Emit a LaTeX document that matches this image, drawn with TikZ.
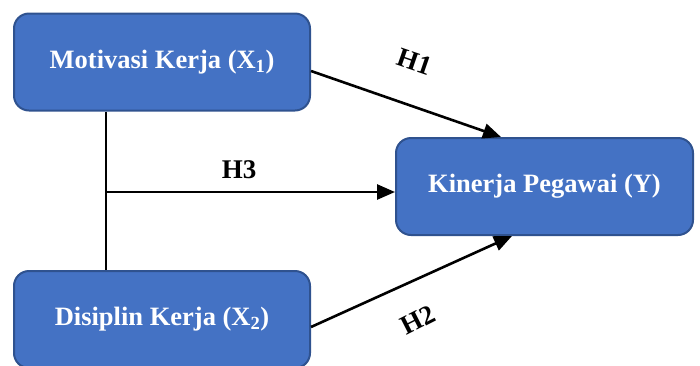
\documentclass[tikz,border=0pt]{standalone}
\usepackage{fontspec}
\setmainfont{Liberation Serif}
\usetikzlibrary{arrows.meta,calc}
\definecolor{boxfill}{HTML}{4472C4}
\definecolor{boxline}{HTML}{2F528F}
\tikzset{
  varbox/.style={draw=boxline, line width=2pt, fill=boxfill, rounded corners=15pt,
    minimum width=296pt, minimum height=97pt, inner sep=0pt, text=white,
    font=\fontsize{26.5}{30}\selectfont\bfseries},
  conn/.style={line width=2.6pt, black},
  arr/.style={conn, -{Triangle[length=18pt,width=15pt]}},
  hlabel/.style={font=\fontsize{27}{30}\selectfont\bfseries, inner sep=0pt}
}
\begin{document}
\begin{tikzpicture}[x=1pt,y=-1pt]
\useasboundingbox (0,0) rectangle (700,365);
\clip (0,0) rectangle (700,365);
\node[varbox] (m) at (162,62) {Motivasi Kerja (X\textsubscript{1})};
\node[varbox] (d) at (162,319.5) {Disiplin Kerja (X\textsubscript{2})};
\node[varbox, minimum width=297pt] (k) at (544.5,186.5) {Kinerja Pegawai (Y)};
\coordinate (j) at (106,192);
\draw[conn] (m.south -| j) -- (d.north -| j);
\draw[arr] (j) -- (j -| k.west);
\draw[arr] ([yshift=-9pt]m.east) -- ($(k.north west)+(106,0)$);
\draw[arr] ([yshift=-7.5pt]d.east) -- ($(k.south west)+(117,0)$);
\node[hlabel, rotate=-19] (h1) at (415,62) {H1};
\node[hlabel, rotate=27] (h2) at (418,320) {H2};
\node[hlabel] (h3) at (239,170) {H3};
\end{tikzpicture}
\end{document}
